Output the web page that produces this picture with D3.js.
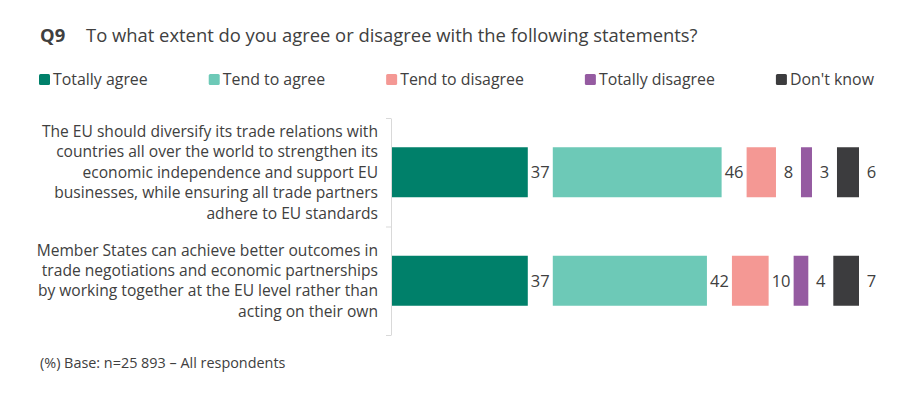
<!DOCTYPE html>
<html>
<head>
<meta charset="utf-8">
<script src="https://cdn.jsdelivr.net/npm/d3@7"></script>
<style>
  body { margin: 0; background: #fff; }
  text { font-family: "Open Sans", sans-serif; fill: #404040; }
</style>
</head>
<body>
<svg id="chart" width="912" height="398"></svg>
<script>
// Data
var categories = [
  "The EU should diversify its trade relations with|countries all over the world to strengthen its|economic independence and support EU|businesses, while ensuring all trade partners|adhere to EU standards",
  "Member States can achieve better outcomes in|trade negotiations and economic partnerships|by working together at the EU level rather than|acting on their own"
];
var seriesNames = ["Totally agree", "Tend to agree", "Tend to disagree", "Totally disagree", "Don't know"];
var seriesColors = ["#00806a", "#6dc9b7", "#f49894", "#955ba1", "#3c3c3e"];
var values = [
  [37, 46, 8, 3, 6],
  [37, 42, 10, 4, 7]
];
var titleCode = "Q9";
var titleText = "To what extent do you agree or disagree with the following statements?";
var footnote = "(%) Base: n=25 893 \u2013 All respondents";

var svg = d3.select("#chart");

var left = 392,
    gap = 25,
    barH = 50;

var x = d3.scaleLinear().domain([0, 100]).range([0, 367]);
var y = d3.scaleBand().domain(d3.range(categories.length)).range([118, 335]).padding(0);
var yAxisScale = d3.scaleLinear().domain([0, categories.length]).range([118, 335]);

// Title
var title = svg.append("text").attr("x", 40).attr("y", 41.5).style("font-size", "18.4px");
title.append("tspan").style("font-weight", "bold").text(titleCode);
title.append("tspan").attr("x", 86).text(titleText);

// Legend
var lx = 39;
seriesNames.forEach(function(name, i){
  var g = svg.append("g").attr("transform", "translate(" + lx + ",74)");
  g.append("rect").attr("width", 11).attr("height", 11).attr("rx", 1.5).attr("fill", seriesColors[i]);
  var t = g.append("text").attr("x", 14).attr("y", 11).style("font-size", "15.9px").text(name);
  lx += 14 + t.node().getComputedTextLength() + 61;
});

// Axis line with ticks at band boundaries
var axis = d3.axisLeft(yAxisScale)
  .tickValues(d3.range(categories.length + 1))
  .tickSize(5)
  .tickSizeOuter(0)
  .tickFormat("");
var ag = svg.append("g").attr("transform", "translate(391,0)").call(axis);
ag.selectAll("path, line").attr("stroke", "#d9d9d9");

// Category labels
categories.forEach(function(c, i){
  var lines = c.split("|");
  var lh = 20.4;
  var cy = y(i) + y.bandwidth() / 2;
  var t = svg.append("text")
    .attr("text-anchor", "end")
    .style("font-size", "15.6px");
  lines.forEach(function(l, j){
    t.append("tspan")
      .attr("x", 378)
      .attr("y", cy + (j - (lines.length - 1) / 2) * lh + 5.5)
      .text(l);
  });
});

// Bars
values.forEach(function(row, i){
  var cum = 0;
  var by = y(i) + (y.bandwidth() - barH) / 2;
  row.forEach(function(v, k){
    var x0 = left + x(cum) + gap * k;
    svg.append("rect")
      .attr("x", x0)
      .attr("y", by)
      .attr("width", x(v))
      .attr("height", barH)
      .attr("fill", seriesColors[k]);
    svg.append("text")
      .attr("x", x0 + x(v) + gap / 2)
      .attr("y", by + barH / 2 + 6)
      .attr("text-anchor", "middle")
      .style("font-size", "16.5px")
      .text(v);
    cum += v;
  });
});

// Footnote
svg.append("text").attr("x", 40).attr("y", 368).style("font-size", "14.4px").text(footnote);
</script>
</body>
</html>
